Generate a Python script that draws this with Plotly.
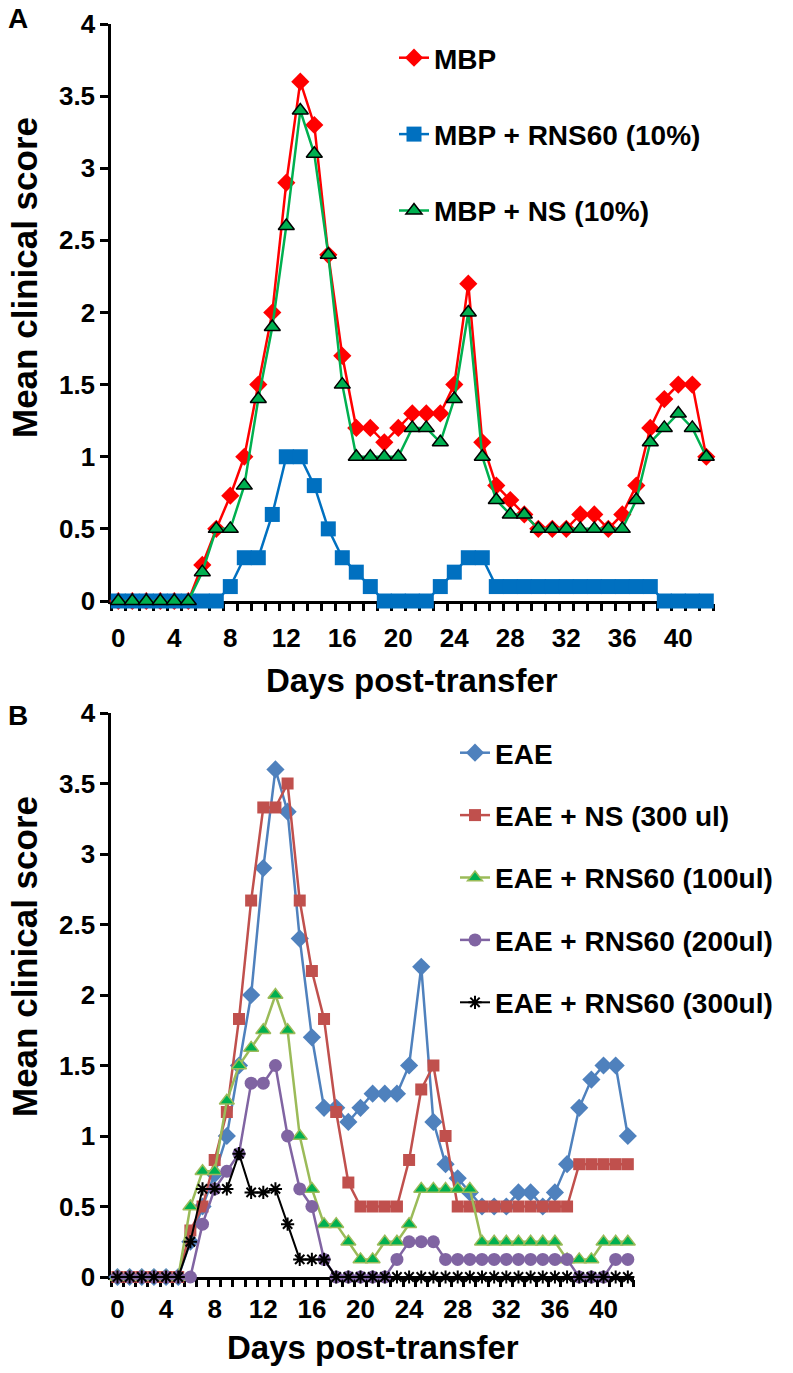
import plotly.graph_objects as go

# ---------------- data ----------------
days = list(range(43))
x_tick_days = [0, 4, 8, 12, 16, 20, 24, 28, 32, 36, 40]

# Panel A
mbp = [0, 0, 0, 0, 0, 0, 0.25, 0.5, 0.73, 1.0, 1.5, 2.0, 2.9, 3.6, 3.3, 2.4, 1.7, 1.2, 1.2, 1.1,
       1.2, 1.3, 1.3, 1.3, 1.5, 2.2, 1.1, 0.8, 0.7, 0.6, 0.5, 0.5, 0.5, 0.6, 0.6, 0.5, 0.6, 0.8,
       1.2, 1.4, 1.5, 1.5, 1.0]
mbp_rns60 = [0, 0, 0, 0, 0, 0, 0, 0, 0.1, 0.3, 0.3, 0.6, 1.0, 1.0, 0.8, 0.5, 0.3, 0.2, 0.1, 0,
             0, 0, 0, 0.1, 0.2, 0.3, 0.3, 0.1, 0.1, 0.1, 0.1, 0.1, 0.1, 0.1, 0.1, 0.1, 0.1, 0.1,
             0.1, 0, 0, 0, 0]
mbp_ns = [0, 0, 0, 0, 0, 0, 0.2, 0.5, 0.5, 0.8, 1.4, 1.9, 2.6, 3.4, 3.1, 2.4, 1.5, 1.0, 1.0, 1.0,
          1.0, 1.2, 1.2, 1.1, 1.4, 2.0, 1.0, 0.7, 0.6, 0.6, 0.5, 0.5, 0.5, 0.5, 0.5, 0.5, 0.5, 0.7,
          1.1, 1.2, 1.3, 1.2, 1.0]

# Panel B
eae = [0, 0, 0, 0, 0, 0, 0.25, 0.5, 0.73, 1.0, 1.5, 2.0, 2.9, 3.6, 3.3, 2.4, 1.7, 1.2, 1.2, 1.1,
       1.2, 1.3, 1.3, 1.3, 1.5, 2.2, 1.1, 0.8, 0.7, 0.6, 0.5, 0.5, 0.5, 0.6, 0.6, 0.5, 0.6, 0.8,
       1.2, 1.4, 1.5, 1.5, 1.0]
eae_ns = [0, 0, 0, 0, 0, 0, 0.33, 0.5, 0.83, 1.17, 1.83, 2.67, 3.33, 3.33, 3.5, 2.67, 2.17, 1.83,
          1.17, 0.67, 0.5, 0.5, 0.5, 0.5, 0.83, 1.33, 1.5, 1.0, 0.5, 0.5, 0.5, 0.5, 0.5, 0.5, 0.5,
          0.5, 0.5, 0.5, 0.8, 0.8, 0.8, 0.8, 0.8]
eae_rns100 = [0, 0, 0, 0, 0, 0, 0.5, 0.75, 0.75, 1.25, 1.5, 1.625, 1.75, 2.0, 1.75, 1.0, 0.625,
              0.375, 0.375, 0.25, 0.125, 0.125, 0.25, 0.25, 0.375, 0.625, 0.625, 0.625, 0.625,
              0.625, 0.25, 0.25, 0.25, 0.25, 0.25, 0.25, 0.25, 0.125, 0.125, 0.125, 0.25, 0.25, 0.25]
eae_rns200 = [0, 0, 0, 0, 0, 0, 0, 0.375, 0.625, 0.75, 0.875, 1.375, 1.375, 1.5, 1.0, 0.625, 0.5,
              0.125, 0, 0, 0, 0, 0, 0.125, 0.25, 0.25, 0.25, 0.125, 0.125, 0.125, 0.125, 0.125,
              0.125, 0.125, 0.125, 0.125, 0.125, 0.125, 0, 0, 0, 0.125, 0.125]
eae_rns300 = [0, 0, 0, 0, 0, 0, 0.25, 0.625, 0.625, 0.625, 0.875, 0.6, 0.6, 0.625, 0.375, 0.125,
              0.125, 0.125, 0, 0, 0, 0, 0, 0, 0, 0, 0, 0, 0, 0, 0, 0, 0, 0, 0, 0, 0, 0, 0, 0, 0, 0, 0]

# ---------------- figure ----------------
W, H = 793, 1373
FONT = "Arial, Liberation Sans, sans-serif"

def px_x(p):
    return p / W

def px_y(p):
    return 1 - p / H

fig = go.Figure()

def add(y, name, xa, ya, leg, group, line_color, symbol, size, fill, outline, owidth, lw=2.5):
    fig.add_trace(go.Scatter(
        x=days, y=y, name=name, mode="lines+markers", xaxis=xa, yaxis=ya,
        legend=leg, legendgroup=group, cliponaxis=False,
        line=dict(color=line_color, width=lw),
        marker=dict(symbol=symbol, size=size, color=fill,
                    line=dict(color=outline, width=owidth)),
    ))

# Panel A traces
add(mbp, "MBP", "x", "y", "legend", "a1", "#FF0000", "diamond", 14, "#FF0000", "#FF0000", 0)
add(mbp_rns60, "MBP + RNS60 (10%)", "x", "y", "legend", "a2", "#0070C0", "square", 15,
    "#0070C0", "#0070C0", 0)
add(mbp_ns, "MBP + NS (10%)", "x", "y", "legend", "a3", "#00B050", "triangle-up", 14,
    "#00B050", "#000000", 1.5)

# Panel B traces
add(eae, "EAE", "x2", "y2", "legend2", "b1", "#4F81BD", "diamond", 14, "#4F81BD", "#4F81BD", 0)
add(eae_ns, "EAE + NS (300 ul)", "x2", "y2", "legend2", "b2", "#C0504D", "square", 12,
    "#C0504D", "#C0504D", 0)
add(eae_rns100, "EAE + RNS60 (100ul)", "x2", "y2", "legend2", "b3", "#9BBB59", "triangle-up", 13,
    "#00B050", "#9BBB59", 1.5)
add(eae_rns200, "EAE + RNS60 (200ul)", "x2", "y2", "legend2", "b4", "#8064A2", "circle", 13,
    "#8064A2", "#8064A2", 0)
add(eae_rns300, "EAE + RNS60 (300ul)", "x2", "y2", "legend2", "b5", "#000000", "asterisk-open", 11,
    "#000000", "#000000", 2, lw=2)

tick_font = dict(family=FONT, size=26, color="black", weight="bold")
half_ticks = [d - 0.5 for d in days] + [42.5]

def xaxis_style(label_len):
    return dict(
        range=[-0.5, 42.5], showgrid=False, zeroline=False, showline=True, automargin=False,
        linecolor="black", linewidth=3, layer="below traces",
        tickmode="array", tickvals=x_tick_days, ticktext=[str(v) for v in x_tick_days],
        ticks="outside", ticklen=label_len, tickcolor="rgba(0,0,0,0)", tickwidth=1,
        tickfont=tick_font,
        minor=dict(tickmode="array", tickvals=half_ticks, ticks="outside", ticklen=7,
                   tickwidth=3, tickcolor="black", showgrid=False),
    )

yaxis_common = dict(
    range=[0, 4], dtick=0.5, tick0=0, showgrid=False, zeroline=False, showline=True,
    automargin=False, linecolor="black", linewidth=3, layer="below traces",
    ticks="outside", ticklen=8, tickwidth=3, tickcolor="black",
    tickfont=tick_font,
)

fig.update_layout(
    template="none",
    width=W, height=H, margin=dict(l=0, r=0, t=0, b=0, pad=0, autoexpand=False),
    paper_bgcolor="white", plot_bgcolor="white", showlegend=True,
    xaxis=dict(domain=[px_x(111.3), px_x(713.3)], anchor="y", **xaxis_style(12)),
    yaxis=dict(domain=[px_y(601), px_y(24)], anchor="x", **yaxis_common),
    xaxis2=dict(domain=[px_x(111.4), px_x(633.9)], anchor="y2", **xaxis_style(7)),
    yaxis2=dict(domain=[px_y(1277), px_y(713)], anchor="x2", **yaxis_common),
    legend=dict(x=px_x(394), xanchor="left", y=px_y(33), yanchor="top",
                font=dict(family=FONT, size=28, color="black", weight="bold"),
                bgcolor="rgba(0,0,0,0)", borderwidth=0, tracegroupgap=37, itemwidth=30),
    legend2=dict(x=px_x(455), xanchor="left", y=px_y(728), yanchor="top",
                 font=dict(family=FONT, size=28, color="black", weight="bold"),
                 bgcolor="rgba(0,0,0,0)", borderwidth=0, tracegroupgap=23, itemwidth=30),
)

ann_font = dict(family=FONT, size=33, color="black", weight="bold")
ytitle_font = dict(family=FONT, size=35, color="black", weight="bold")
annotations = [
    dict(text="A", x=px_x(18), y=px_y(18), xanchor="center", yanchor="middle",
         font=dict(family=FONT, size=28, color="black", weight="bold")),
    dict(text="B", x=px_x(18), y=px_y(716), xanchor="center", yanchor="middle",
         font=dict(family=FONT, size=28, color="black", weight="bold")),
    dict(text="Mean clinical score", x=px_x(24), y=px_y(278), textangle=-90,
         xanchor="center", yanchor="middle", font=ytitle_font),
    dict(text="Mean clinical score", x=px_x(24), y=px_y(957), textangle=-90,
         xanchor="center", yanchor="middle", font=ytitle_font),
    dict(text="Days post-transfer", x=px_x(412), y=px_y(680), xanchor="center",
         yanchor="middle", font=ann_font),
    dict(text="Days post-transfer", x=px_x(372.6), y=px_y(1347), xanchor="center",
         yanchor="middle", font=ann_font),
]
for a in annotations:
    a.update(xref="paper", yref="paper", showarrow=False)
fig.update_layout(annotations=annotations)

fig.write_html("out.html", config={"displayModeBar": False},
               post_script="document.body.style.margin='0';")
